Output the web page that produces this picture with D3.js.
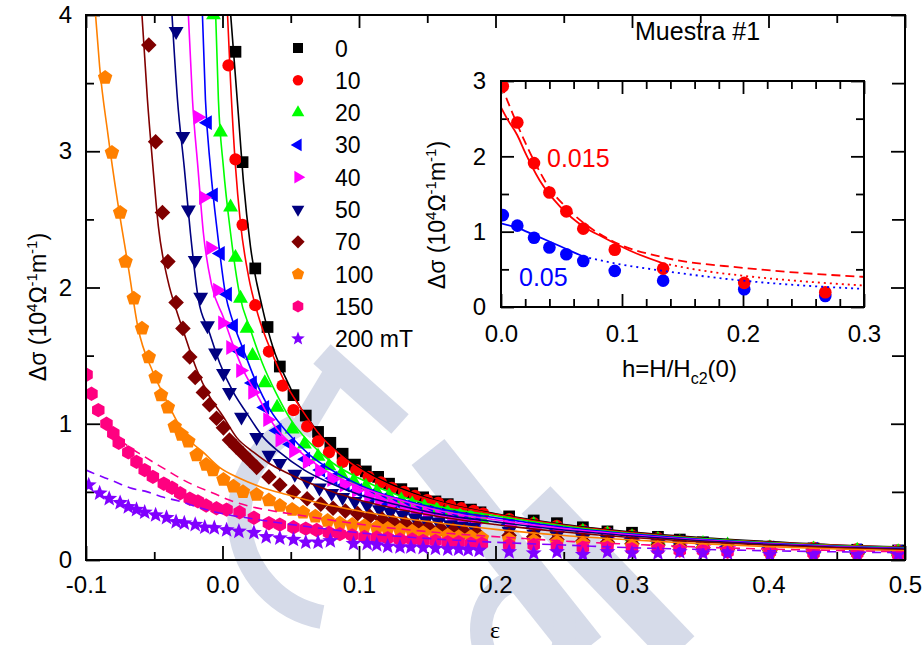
<!DOCTYPE html>
<html>
<head>
<meta charset="utf-8">
<script src="https://cdn.jsdelivr.net/npm/d3@7"></script>
<style>
  body { margin: 0; background: #fff; }
  svg text { font-family: "Liberation Sans", Arial, sans-serif; }
</style>
</head>
<body>
<script>
// magnetic fields and how each one is drawn
var fields = ["0", "10", "20", "30", "40", "50", "70", "100", "150", "200 mT"];
var colors = ["#000000", "#ff0000", "#00ff00", "#0000ff", "#ff00ff", "#000080", "#800000", "#ff8000", "#ff0080", "#8000ff"];
var shapes = ["square", "circle", "triUp", "triLeft", "triRight", "triDown", "diamond", "pentagon", "hexagon", "star"];

// eps of the sparse points above 0.2 (same for every field)
var tailEps = [0.210, 0.228, 0.245, 0.264, 0.282, 0.300, 0.319, 0.335, 0.352, 0.370, 0.401, 0.433, 0.465, 0.495];

// measured points [eps, dsigma] below 0.2
var pts0 = [[0.0095,3.73],[0.0147,2.92],[0.024,2.14],[0.033,1.71],[0.042,1.42],[0.052,1.21],[0.061,1.06],[0.070,0.94],[0.079,0.86],[0.088,0.78],[0.097,0.70],[0.105,0.65],[0.114,0.61],[0.122,0.56],[0.131,0.52],[0.139,0.49],[0.147,0.46],[0.156,0.43],[0.165,0.41],[0.173,0.39],[0.182,0.37],[0.189,0.35]];
var pts10 = [[0.0044,3.63],[0.0095,2.94],[0.0147,2.46],[0.024,1.87],[0.034,1.53],[0.044,1.28],[0.052,1.10],[0.062,0.98],[0.070,0.87],[0.078,0.79],[0.088,0.72],[0.098,0.66],[0.107,0.61],[0.116,0.57],[0.124,0.53],[0.133,0.50],[0.141,0.47],[0.150,0.44],[0.158,0.42],[0.167,0.40],[0.175,0.38],[0.184,0.36],[0.191,0.34]];
var pts20 = [[-0.0066,4.0],[-0.0015,3.14],[0.0059,2.59],[0.0095,2.22],[0.0132,1.92],[0.018,1.70],[0.022,1.50],[0.031,1.30],[0.040,1.12],[0.051,0.96],[0.060,0.85],[0.070,0.76],[0.078,0.69],[0.087,0.63],[0.096,0.58],[0.105,0.54],[0.113,0.50],[0.122,0.47],[0.131,0.44],[0.139,0.41],[0.148,0.39],[0.157,0.37],[0.165,0.35],[0.174,0.33],[0.182,0.32],[0.190,0.30]];
var pts30 = [[-0.011,3.21],[-0.0066,2.68],[-0.0015,2.25],[0.0037,1.95],[0.0081,1.72],[0.0132,1.53],[0.022,1.30],[0.031,1.12],[0.040,0.95],[0.050,0.85],[0.061,0.74],[0.072,0.66],[0.081,0.60],[0.090,0.55],[0.099,0.51],[0.108,0.47],[0.117,0.44],[0.125,0.41],[0.134,0.39],[0.143,0.37],[0.151,0.35],[0.160,0.33],[0.169,0.31],[0.177,0.30],[0.186,0.28]];
var pts40 = [[-0.018,3.25],[-0.014,2.66],[-0.0088,2.29],[-0.0037,1.98],[0.0,1.74],[0.0059,1.56],[0.0132,1.39],[0.022,1.23],[0.033,1.03],[0.042,0.88],[0.052,0.80],[0.062,0.72],[0.071,0.65],[0.080,0.59],[0.089,0.55],[0.098,0.51],[0.107,0.47],[0.115,0.44],[0.124,0.41],[0.133,0.38],[0.141,0.36],[0.150,0.34],[0.159,0.32],[0.168,0.30],[0.176,0.29],[0.185,0.27]];
var pts50 = [[-0.034,3.88],[-0.029,3.11],[-0.025,2.57],[-0.020,2.20],[-0.016,1.93],[-0.011,1.72],[-0.0051,1.52],[0.0007,1.37],[0.0051,1.23],[0.0139,1.05],[0.025,0.90],[0.034,0.77],[0.042,0.71],[0.053,0.63],[0.062,0.58],[0.071,0.53],[0.080,0.49],[0.088,0.46],[0.097,0.43],[0.106,0.40],[0.115,0.37],[0.123,0.35],[0.132,0.33],[0.141,0.31],[0.149,0.29],[0.158,0.28],[0.167,0.26],[0.175,0.25],[0.184,0.24]];
var pts70 = [[-0.054,3.78],[-0.049,3.07],[-0.044,2.55],[-0.040,2.19],[-0.034,1.89],[-0.029,1.70],[-0.024,1.49],[-0.020,1.34],[-0.014,1.23],[-0.0095,1.14],[-0.0044,1.04],[0.0007,0.97],[0.0051,0.88],[0.010,0.83],[0.015,0.78],[0.020,0.73],[0.025,0.68],[0.034,0.61],[0.042,0.55],[0.052,0.50],[0.062,0.45],[0.072,0.41],[0.081,0.38],[0.090,0.36],[0.099,0.34],[0.108,0.32],[0.117,0.30],[0.125,0.28],[0.134,0.27],[0.143,0.25],[0.151,0.24],[0.160,0.23],[0.169,0.22],[0.177,0.21],[0.186,0.20]];
var pts100 = [[-0.086,3.54],[-0.081,2.99],[-0.075,2.55],[-0.071,2.19],[-0.065,1.92],[-0.059,1.70],[-0.054,1.49],[-0.049,1.34],[-0.045,1.21],[-0.040,1.12],[-0.035,0.98],[-0.030,0.92],[-0.025,0.87],[-0.019,0.77],[-0.012,0.70],[-0.007,0.66],[0.0007,0.59],[0.008,0.54],[0.015,0.50],[0.025,0.48],[0.034,0.44],[0.042,0.40],[0.051,0.37],[0.059,0.35],[0.068,0.32],[0.077,0.29],[0.086,0.27],[0.095,0.26],[0.104,0.25],[0.113,0.24],[0.121,0.23],[0.130,0.22],[0.139,0.21],[0.147,0.20],[0.156,0.19],[0.165,0.18],[0.173,0.17],[0.182,0.17],[0.190,0.16]];
var pts150 = [[-0.0996,1.36],[-0.096,1.22],[-0.091,1.10],[-0.085,1.00],[-0.080,0.93],[-0.076,0.86],[-0.069,0.79],[-0.063,0.72],[-0.057,0.66],[-0.051,0.61],[-0.043,0.56],[-0.037,0.53],[-0.031,0.49],[-0.024,0.45],[-0.018,0.43],[-0.012,0.40],[-0.0044,0.38],[0.003,0.37],[0.0125,0.35],[0.023,0.31],[0.034,0.27],[0.042,0.26],[0.052,0.24],[0.061,0.23],[0.069,0.22],[0.078,0.20],[0.086,0.19],[0.095,0.18],[0.104,0.17],[0.113,0.165],[0.121,0.16],[0.130,0.15],[0.139,0.15],[0.147,0.14],[0.156,0.14],[0.165,0.13],[0.173,0.13],[0.182,0.12],[0.190,0.12]];
var pts200 = [[-0.098,0.55],[-0.090,0.49],[-0.083,0.45],[-0.075,0.42],[-0.069,0.39],[-0.063,0.37],[-0.057,0.35],[-0.049,0.33],[-0.041,0.31],[-0.034,0.28],[-0.028,0.27],[-0.020,0.26],[-0.013,0.24],[-0.006,0.235],[0.003,0.22],[0.012,0.21],[0.023,0.20],[0.032,0.17],[0.042,0.16],[0.052,0.15],[0.061,0.13],[0.070,0.13],[0.079,0.14],[0.096,0.12],[0.106,0.12],[0.113,0.11],[0.121,0.10],[0.130,0.095],[0.138,0.095],[0.147,0.09],[0.156,0.085],[0.165,0.08],[0.173,0.08],[0.180,0.075],[0.188,0.07]];

// dsigma of the sparse points, one per tailEps
var tail0 = [0.32,0.29,0.27,0.24,0.21,0.20,0.17,0.15,0.13,0.11,0.095,0.085,0.075,0.07];
var tail10 = [0.30,0.27,0.25,0.22,0.20,0.18,0.16,0.14,0.12,0.11,0.10,0.09,0.08,0.07];
var tail20 = [0.28,0.26,0.23,0.21,0.19,0.17,0.15,0.13,0.12,0.11,0.09,0.08,0.07,0.06];
var tail30 = [0.26,0.24,0.22,0.20,0.18,0.16,0.14,0.13,0.12,0.10,0.09,0.08,0.07,0.06];
var tail40 = [0.25,0.23,0.21,0.19,0.17,0.15,0.14,0.12,0.11,0.10,0.08,0.07,0.06,0.06];
var tail50 = [0.21,0.19,0.18,0.16,0.15,0.13,0.12,0.11,0.10,0.09,0.08,0.07,0.06,0.05];
var tail70 = [0.18,0.17,0.15,0.14,0.13,0.12,0.11,0.10,0.09,0.08,0.07,0.06,0.05,0.05];
var tail100 = [0.15,0.14,0.13,0.12,0.11,0.10,0.09,0.08,0.08,0.07,0.06,0.05,0.05,0.04];
var tail150 = [0.11,0.11,0.10,0.09,0.09,0.08,0.08,0.07,0.07,0.06,0.06,0.05,0.05,0.04];
var tail200 = [0.06,0.05,0.06,0.04,0.06,0.05,0.05,0.06,0.05,0.05,0.04,0.04,0.04,0.04];

// fitted curves
var fit0 = [[0.006,4.0],[0.0117,3.26],[0.0154,2.77],[0.0205,2.30],[0.029,1.86],[0.037,1.56],[0.048,1.30],[0.057,1.12],[0.072,0.92],[0.088,0.77],[0.11,0.62],[0.14,0.49],[0.17,0.40],[0.2,0.34],[0.25,0.26],[0.3,0.205],[0.35,0.165],[0.4,0.135],[0.45,0.11],[0.5,0.095]];
var fit10 = [[0.0037,4.0],[0.0059,3.51],[0.0095,2.89],[0.0132,2.47],[0.0191,2.08],[0.026,1.80],[0.037,1.50],[0.046,1.30],[0.057,1.12],[0.072,0.91],[0.089,0.75],[0.11,0.61],[0.14,0.48],[0.17,0.395],[0.2,0.335],[0.25,0.255],[0.3,0.20],[0.35,0.16],[0.4,0.13],[0.45,0.107],[0.5,0.092]];
var fit20 = [[-0.005,4.0],[-0.003,3.38],[0.0007,2.88],[0.0059,2.40],[0.0125,1.95],[0.0205,1.69],[0.029,1.45],[0.039,1.23],[0.050,1.03],[0.064,0.86],[0.081,0.71],[0.1,0.60],[0.13,0.47],[0.16,0.39],[0.2,0.325],[0.25,0.25],[0.3,0.195],[0.35,0.157],[0.4,0.127],[0.45,0.104],[0.5,0.089]];
var fit30 = [[-0.0147,4.0],[-0.0125,3.38],[-0.0088,2.88],[-0.0037,2.40],[0.0022,1.95],[0.0073,1.76],[0.0154,1.54],[0.024,1.32],[0.035,1.10],[0.048,0.93],[0.064,0.77],[0.085,0.63],[0.11,0.51],[0.14,0.42],[0.17,0.355],[0.2,0.31],[0.25,0.24],[0.3,0.19],[0.35,0.152],[0.4,0.123],[0.45,0.10],[0.5,0.086]];
var fit40 = [[-0.025,4.0],[-0.022,3.38],[-0.018,2.88],[-0.014,2.40],[-0.008,2.02],[0.0007,1.78],[0.0073,1.59],[0.0154,1.39],[0.026,1.20],[0.037,1.0],[0.055,0.81],[0.075,0.66],[0.1,0.54],[0.13,0.44],[0.16,0.36],[0.2,0.295],[0.25,0.23],[0.3,0.183],[0.35,0.147],[0.4,0.119],[0.45,0.097],[0.5,0.083]];
var fit50 = [[-0.037,4.0],[-0.033,3.38],[-0.028,2.88],[-0.0235,2.40],[-0.0176,1.91],[-0.0103,1.69],[-0.0022,1.45],[0.008,1.23],[0.0176,1.08],[0.030,0.90],[0.042,0.79],[0.06,0.66],[0.08,0.56],[0.1,0.48],[0.13,0.40],[0.16,0.335],[0.2,0.28],[0.25,0.22],[0.3,0.176],[0.35,0.141],[0.4,0.115],[0.45,0.094],[0.5,0.08]];
var fit70 = [[-0.059,4.0],[-0.055,3.38],[-0.051,2.89],[-0.047,2.45],[-0.040,2.05],[-0.034,1.84],[-0.029,1.69],[-0.019,1.40],[-0.0095,1.20],[0.0007,1.05],[0.0103,0.90],[0.023,0.79],[0.034,0.71],[0.047,0.64],[0.07,0.54],[0.1,0.44],[0.13,0.37],[0.16,0.315],[0.2,0.26],[0.25,0.205],[0.3,0.165],[0.35,0.133],[0.4,0.108],[0.45,0.089],[0.5,0.075]];
var fit100 = [[-0.093,4.0],[-0.090,3.62],[-0.084,3.13],[-0.077,2.64],[-0.069,2.15],[-0.062,1.71],[-0.051,1.38],[-0.041,1.17],[-0.034,1.03],[-0.026,0.90],[-0.014,0.79],[-0.0022,0.68],[0.0125,0.60],[0.027,0.54],[0.047,0.48],[0.07,0.42],[0.1,0.36],[0.13,0.31],[0.16,0.27],[0.2,0.225],[0.25,0.18],[0.3,0.147],[0.35,0.12],[0.4,0.098],[0.45,0.081],[0.5,0.068]];
var fit150 = [[-0.075,0.88],[-0.067,0.82],[-0.059,0.77],[-0.051,0.72],[-0.041,0.66],[-0.031,0.60],[-0.019,0.54],[-0.0066,0.49],[0.005,0.44],[0.0176,0.40],[0.037,0.36],[0.062,0.32],[0.11,0.25],[0.16,0.20],[0.21,0.165],[0.257,0.135],[0.3,0.115],[0.35,0.095],[0.4,0.08],[0.45,0.07],[0.5,0.06]];
var fit200 = [[-0.1,0.66],[-0.093,0.63],[-0.08,0.58],[-0.068,0.53],[-0.055,0.50],[-0.043,0.46],[-0.031,0.43],[-0.019,0.39],[-0.0066,0.355],[0.005,0.33],[0.0176,0.31],[0.03,0.29],[0.047,0.265],[0.07,0.235],[0.1,0.20],[0.14,0.165],[0.2,0.13],[0.25,0.11],[0.3,0.09],[0.35,0.078],[0.4,0.068],[0.45,0.06],[0.5,0.053]];

// inset: dsigma against h = H/Hc2(0)
var hVals = [0.0015, 0.0135, 0.0273, 0.040, 0.054, 0.068, 0.094, 0.134, 0.201, 0.268];
var inRed = [2.93, 2.45, 1.91, 1.52, 1.27, 1.04, 0.76, 0.51, 0.32, 0.195];
var inBlue = [1.22, 1.08, 0.92, 0.79, 0.70, 0.61, 0.48, 0.35, 0.235, 0.146];
var inRedSolid = [[0,2.65],[0.005,2.50],[0.0135,2.28],[0.02,2.05],[0.032,1.68],[0.049,1.33],[0.068,1.07],[0.084,0.93],[0.112,0.71],[0.134,0.58]];
var inRedDash = [[0,2.95],[0.005,2.75],[0.0135,2.42],[0.027,1.95],[0.04,1.58],[0.054,1.32],[0.068,1.12],[0.094,0.86],[0.134,0.66],[0.2,0.52],[0.25,0.45],[0.3,0.40]];
var inRedDot = [[0.134,0.58],[0.16,0.50],[0.2,0.415],[0.25,0.34],[0.3,0.285]];
var inBlueSolid = [[0,1.11],[0.0135,1.05],[0.027,0.96],[0.04,0.87],[0.054,0.77],[0.068,0.67]];
var inBlueDot = [[0.068,0.67],[0.094,0.58],[0.134,0.48],[0.2,0.35],[0.25,0.285],[0.3,0.24]];

var allPts = [pts0, pts10, pts20, pts30, pts40, pts50, pts70, pts100, pts150, pts200];
var allTails = [tail0, tail10, tail20, tail30, tail40, tail50, tail70, tail100, tail150, tail200];
var allFits = [fit0, fit10, fit20, fit30, fit40, fit50, fit70, fit100, fit150, fit200];

var series = fields.map(function (f, i) {
  return {
    name: f,
    color: colors[i],
    shape: shapes[i],
    dashed: i >= 8,
    pts: allPts[i].concat(tailEps.map(function (e, j) { return [e, allTails[i][j]]; })),
    fit: allFits[i]
  };
});

// marker outlines
function poly(n, r, rot) {
  var p = [];
  for (var i = 0; i < n; i++) {
    var a = rot + i * 2 * Math.PI / n;
    p.push((r * Math.sin(a)).toFixed(2) + "," + (-r * Math.cos(a)).toFixed(2));
  }
  return "M" + p.join("L") + "Z";
}
function star(ro, ri) {
  var p = [];
  for (var i = 0; i < 10; i++) {
    var r = i % 2 ? ri : ro, a = i * Math.PI / 5;
    p.push((r * Math.sin(a)).toFixed(2) + "," + (-r * Math.cos(a)).toFixed(2));
  }
  return "M" + p.join("L") + "Z";
}
var symbolPath = {
  square: poly(4, 8.3, Math.PI / 4),
  circle: d3.symbol(d3.symbolCircle, 118)(),
  triUp: poly(3, 8.6, 0),
  triDown: poly(3, 8.6, Math.PI),
  triLeft: poly(3, 8.6, -Math.PI / 2),
  triRight: poly(3, 8.6, Math.PI / 2),
  diamond: poly(4, 7.8, 0),
  pentagon: poly(5, 7.6, 0),
  hexagon: poly(6, 7.2, 0),
  star: star(8.4, 3.6)
};

var width = 923, height = 645;
var svg = d3.select("body").append("svg")
  .attr("width", width)
  .attr("height", height);

// faint watermark behind everything
var wm = svg.append("g").attr("fill", "none").attr("stroke", "#d6dbe9");
wm.append("path").attr("d", "M297,425 A102,102 0 0 0 322,617").attr("stroke-width", 24);
wm.append("path").attr("d", "M300,432 L342,362").attr("stroke-width", 24);
wm.append("path").attr("d", "M322,354 L400,424").attr("stroke-width", 26);
wm.append("path").attr("d", "M428,452 L585,650").attr("stroke-width", 42);
wm.append("path").attr("d", "M536,500 L680,650").attr("stroke-width", 40);
wm.append("ellipse").attr("cx", 523).attr("cy", 630).attr("rx", 42).attr("ry", 50).attr("stroke-width", 22);

var x = d3.scaleLinear().domain([-0.1, 0.5]).range([86, 905]);
var y = d3.scaleLinear().domain([0, 4]).range([560, 15]);

svg.append("clipPath").attr("id", "plotclip")
  .append("rect").attr("x", 86).attr("y", 15).attr("width", 819).attr("height", 545);

function addAxis(axis, tx, ty, size) {
  var g = svg.append("g")
    .attr("transform", "translate(" + tx + "," + ty + ")")
    .call(axis);
  g.select(".domain").remove();
  g.selectAll("line").attr("stroke", "#000").attr("stroke-width", 1.8);
  g.selectAll("text").style("font-size", size + "px").style("fill", "#000");
  return g;
}

var xMaj = [-0.1, 0, 0.1, 0.2, 0.3, 0.4, 0.5], xMin = [-0.05, 0.05, 0.15, 0.25, 0.35, 0.45];
var yMaj = [0, 1, 2, 3, 4], yMin = [0.5, 1.5, 2.5, 3.5];
var fmt1 = function (d) { return d.toFixed(1); };

addAxis(d3.axisBottom(x).tickValues(xMaj).tickSize(-14).tickPadding(16).tickFormat(fmt1), 0, 560, 24);
addAxis(d3.axisBottom(x).tickValues(xMin).tickSize(-8).tickFormat(""), 0, 560, 24);
addAxis(d3.axisTop(x).tickValues(xMaj).tickSize(-13).tickFormat(""), 0, 15, 24);
addAxis(d3.axisTop(x).tickValues(xMin).tickSize(-8).tickFormat(""), 0, 15, 24);
addAxis(d3.axisLeft(y).tickValues(yMaj).tickSize(-14).tickPadding(14).tickFormat(d3.format("d")), 86, 0, 24);
addAxis(d3.axisLeft(y).tickValues(yMin).tickSize(-8).tickFormat(""), 86, 0, 24);
addAxis(d3.axisRight(y).tickValues(yMaj).tickSize(-14).tickFormat(""), 905, 0, 24);
addAxis(d3.axisRight(y).tickValues(yMin).tickSize(-13).tickFormat(""), 905, 0, 24);

// data
var plot = svg.append("g").attr("clip-path", "url(#plotclip)");
series.forEach(function (s) {
  plot.append("g").selectAll("path")
    .data(s.pts)
    .join("path")
    .attr("d", symbolPath[s.shape])
    .attr("transform", function (d) { return "translate(" + x(d[0]) + "," + y(d[1]) + ")"; })
    .attr("fill", s.color);
});

var line = d3.line()
  .x(function (d) { return x(d[0]); })
  .y(function (d) { return y(d[1]); })
  .curve(d3.curveMonotoneX);

series.forEach(function (s) {
  plot.append("path")
    .attr("d", line(s.fit))
    .attr("fill", "none")
    .attr("stroke", s.color)
    .attr("stroke-width", 1.6)
    .attr("stroke-dasharray", s.dashed ? "9,6" : null);
});

svg.append("rect")
  .attr("x", 86).attr("y", 15).attr("width", 819).attr("height", 545)
  .attr("fill", "none").attr("stroke", "#000").attr("stroke-width", 2);

// legend
var leg = svg.append("g");
series.forEach(function (s, i) {
  var cy = 48 + i * 32.3;
  leg.append("path")
    .attr("d", symbolPath[s.shape])
    .attr("transform", "translate(298," + cy + ") scale(0.85)")
    .attr("fill", s.color);
  leg.append("text")
    .attr("x", 335)
    .attr("y", cy + 8.5)
    .style("font-size", "23px")
    .style("fill", "#000")
    .text(s.name);
});

// axis titles
function sigmaLabel(t) {
  t.append("tspan").text("\u0394\u03c3 (10");
  t.append("tspan").attr("dy", -9).style("font-size", "15px").text("4");
  t.append("tspan").attr("dy", 9).text("\u03a9");
  t.append("tspan").attr("dy", -9).style("font-size", "15px").text("-1");
  t.append("tspan").attr("dy", 9).text("m");
  t.append("tspan").attr("dy", -9).style("font-size", "15px").text("-1");
  t.append("tspan").attr("dy", 9).text(")");
}

var yl = svg.append("text")
  .attr("transform", "translate(46,307) rotate(-90)")
  .attr("text-anchor", "middle")
  .style("font-size", "23px")
  .style("fill", "#000");
sigmaLabel(yl);

svg.append("text")
  .attr("x", 495).attr("y", 638)
  .attr("text-anchor", "middle")
  .style("font-family", "'Liberation Serif', serif")
  .style("font-size", "24px")
  .style("fill", "#000")
  .text("\u03b5");

svg.append("text")
  .attr("x", 635).attr("y", 40)
  .style("font-size", "25px")
  .style("fill", "#000")
  .text("Muestra #1");

// inset
var ix = d3.scaleLinear().domain([0, 0.3]).range([501, 864]);
var iy = d3.scaleLinear().domain([0, 3]).range([307, 81]);

svg.append("rect")
  .attr("x", 501).attr("y", 81).attr("width", 363).attr("height", 226)
  .attr("fill", "#fff");

var ixMaj = [0, 0.1, 0.2, 0.3];
var ixMin = [0.02, 0.04, 0.06, 0.08, 0.12, 0.14, 0.16, 0.18, 0.22, 0.24, 0.26, 0.28];
var iyMaj = [0, 1, 2, 3], iyMin = [0.5, 1.5, 2.5];

addAxis(d3.axisBottom(ix).tickValues(ixMaj).tickSize(-13).tickPadding(18).tickFormat(fmt1), 0, 307, 24);
addAxis(d3.axisBottom(ix).tickValues(ixMin).tickSize(-8).tickFormat(""), 0, 307, 24);
addAxis(d3.axisTop(ix).tickValues(ixMaj).tickSize(-13).tickFormat(""), 0, 81, 24);
addAxis(d3.axisTop(ix).tickValues(ixMin).tickSize(-8).tickFormat(""), 0, 81, 24);
addAxis(d3.axisLeft(iy).tickValues(iyMaj).tickSize(-13).tickPadding(15).tickFormat(d3.format("d")), 501, 0, 24);
addAxis(d3.axisLeft(iy).tickValues(iyMin).tickSize(-8).tickFormat(""), 501, 0, 24);
addAxis(d3.axisRight(iy).tickValues(iyMaj).tickSize(-13).tickFormat(""), 864, 0, 24);
addAxis(d3.axisRight(iy).tickValues(iyMin).tickSize(-8).tickFormat(""), 864, 0, 24);

svg.append("clipPath").attr("id", "insetclip")
  .append("rect").attr("x", 501).attr("y", 81).attr("width", 363).attr("height", 226);

var inset = svg.append("g").attr("clip-path", "url(#insetclip)");
var iline = d3.line()
  .x(function (d) { return ix(d[0]); })
  .y(function (d) { return iy(d[1]); })
  .curve(d3.curveMonotoneX);

inset.selectAll("circle.blue")
  .data(hVals)
  .join("circle")
  .attr("class", "blue")
  .attr("cx", function (d) { return ix(d); })
  .attr("cy", function (d, i) { return iy(inBlue[i]); })
  .attr("r", 6.3)
  .attr("fill", "#0000ff");
inset.selectAll("circle.red")
  .data(hVals)
  .join("circle")
  .attr("class", "red")
  .attr("cx", function (d) { return ix(d); })
  .attr("cy", function (d, i) { return iy(inRed[i]); })
  .attr("r", 6.3)
  .attr("fill", "#ff0000");

[
  [inRedSolid, "#ff0000", null],
  [inRedDash, "#ff0000", "9,5"],
  [inRedDot, "#ff0000", "2,4"],
  [inBlueSolid, "#0000ff", null],
  [inBlueDot, "#0000ff", "2,4"]
].forEach(function (c) {
  inset.append("path")
    .attr("d", iline(c[0]))
    .attr("fill", "none")
    .attr("stroke", c[1])
    .attr("stroke-width", 1.8)
    .attr("stroke-dasharray", c[2]);
});

svg.append("rect")
  .attr("x", 501).attr("y", 81).attr("width", 363).attr("height", 226)
  .attr("fill", "none").attr("stroke", "#000").attr("stroke-width", 2);

svg.append("text").attr("x", 547).attr("y", 167)
  .style("font-size", "25px").style("fill", "#ff0000").text("0.015");
svg.append("text").attr("x", 519).attr("y", 286)
  .style("font-size", "25px").style("fill", "#0000ff").text("0.05");

var il = svg.append("text")
  .attr("transform", "translate(445,215) rotate(-90)")
  .attr("text-anchor", "middle")
  .style("font-size", "23px")
  .style("fill", "#000");
sigmaLabel(il);

var hl = svg.append("text")
  .attr("x", 622).attr("y", 377)
  .style("font-size", "24px")
  .style("fill", "#000");
hl.append("tspan").text("h=H/H");
hl.append("tspan").attr("dy", 7).style("font-size", "16px").text("c2");
hl.append("tspan").attr("dy", -7).text("(0)");
</script>
</body>
</html>
